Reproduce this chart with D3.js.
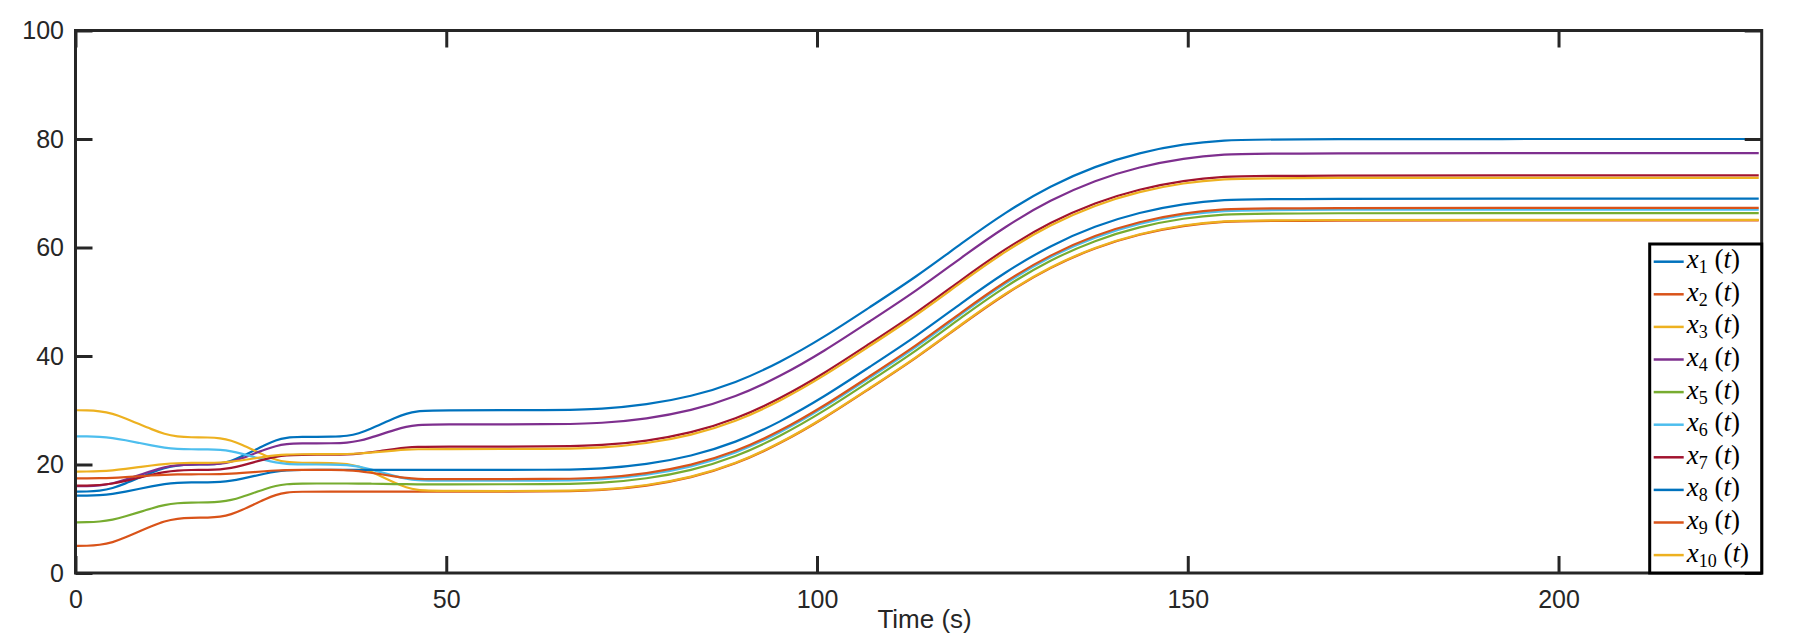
<!DOCTYPE html>
<html>
<head>
<meta charset="utf-8">
<script src="https://cdn.jsdelivr.net/npm/d3@7"></script>
<style>
body { margin: 0; background: #fff; }
</style>
</head>
<body>
<div id="chart-area"></div>
<script>
// time samples (s)
const TIME = [0, 1.5, 3.25, 5, 6.75, 8.5, 10.25, 12, 13.75, 15.5,
	18, 19.5, 21, 22.5, 24, 25.5, 27, 28.5, 30,
	35, 36.6, 38.2, 39.8, 41.4, 43, 44.6, 46.2, 47.8,
	65, 71, 77, 83, 89, 95, 101, 107, 113.5, 119.5, 125.5, 131.5, 137.5, 143.5, 149.5, 155, 160,
	227]

const X1 = [15, 15, 15.15, 15.6, 16.5, 17.5, 18.5, 19.4, 19.85, 20,
	20, 20.15, 20.61, 21.53, 22.55, 23.57, 24.49, 24.95, 25.1,
	25.1, 25.25, 25.69, 26.57, 27.55, 28.53, 29.41, 29.85, 30,
	30, 30.2, 31, 32.5, 35, 38.8, 43.5, 48.9, 54.7, 60.8, 66.6, 71.4, 75, 77.5, 79.1, 79.8, 80,
	80]
const X2 = [5, 5, 5.16, 5.62, 6.56, 7.6, 8.64, 9.58, 10.04, 10.2,
	10.2, 10.34, 10.78, 11.64, 12.6, 13.56, 14.42, 14.86, 15,
	15, 15, 15, 15, 15, 15, 15, 15, 15,
	15, 15.2, 16, 17.5, 20, 23.8, 28.5, 33.9, 39.7, 45.8, 51.6, 56.4, 60, 62.5, 64.1, 64.8, 65,
	65]
const X3 = [30, 30, 29.85, 29.4, 28.5, 27.5, 26.5, 25.6, 25.15, 25,
	25, 24.86, 24.44, 23.59, 22.65, 21.71, 20.86, 20.44, 20.3,
	20.3, 20.14, 19.68, 18.74, 17.7, 16.66, 15.72, 15.26, 15.1,
	15.1, 15.3, 16.1, 17.6, 20.1, 23.9, 28.6, 34, 39.8, 45.9, 51.7, 56.5, 60.1, 62.6, 64.2, 64.9, 65.1,
	65.1]
const X4 = [16, 16, 16.12, 16.48, 17.2, 18, 18.8, 19.52, 19.88, 20,
	20, 20.12, 20.47, 21.17, 21.95, 22.73, 23.43, 23.78, 23.9,
	23.9, 24.01, 24.32, 24.95, 25.65, 26.35, 26.98, 27.3, 27.4,
	27.4, 27.6, 28.4, 29.9, 32.4, 36.2, 40.9, 46.3, 52.1, 58.2, 64, 68.8, 72.4, 74.9, 76.5, 77.2, 77.4,
	77.4]
const X5 = [9.35, 9.35, 9.46, 9.79, 10.45, 11.18, 11.91, 12.56, 12.89, 13,
	13, 13.11, 13.42, 14.05, 14.75, 15.45, 16.08, 16.4, 16.5,
	16.5, 16.5, 16.48, 16.46, 16.43, 16.4, 16.37, 16.35, 16.35,
	16.35, 16.55, 17.35, 18.85, 21.35, 25.15, 29.85, 35.25, 41.05, 47.15, 52.95, 57.75, 61.35, 63.85, 65.45, 66.15, 66.35,
	66.35]
const X6 = [25.2, 25.2, 25.13, 24.91, 24.48, 24, 23.52, 23.09, 22.87, 22.8,
	22.8, 22.72, 22.46, 21.96, 21.4, 20.84, 20.34, 20.08, 20,
	20, 19.91, 19.64, 19.1, 18.5, 17.9, 17.36, 17.09, 17,
	17, 17.2, 18, 19.5, 22, 25.8, 30.5, 35.9, 41.7, 47.8, 53.6, 58.4, 62, 64.5, 66.1, 66.8, 67,
	67]
const X7 = [16.1, 16.1, 16.19, 16.45, 16.97, 17.55, 18.13, 18.65, 18.91, 19,
	19, 19.08, 19.34, 19.84, 20.4, 20.96, 21.46, 21.72, 21.8,
	21.8, 21.85, 21.98, 22.25, 22.55, 22.85, 23.12, 23.26, 23.3,
	23.3, 23.5, 24.3, 25.8, 28.3, 32.1, 36.8, 42.2, 48, 54.1, 59.9, 64.7, 68.3, 70.8, 72.4, 73.1, 73.3,
	73.3]
const X8 = [14.25, 14.25, 14.32, 14.54, 14.99, 15.48, 15.97, 16.41, 16.63, 16.7,
	16.7, 16.77, 16.98, 17.39, 17.85, 18.31, 18.72, 18.93, 19,
	19, 19, 19, 19, 19, 19, 19, 19, 19,
	19, 19.2, 20, 21.5, 24, 27.8, 32.5, 37.9, 43.7, 49.8, 55.6, 60.4, 64, 66.5, 68.1, 68.8, 69,
	69]
const X9 = [17.45, 17.45, 17.47, 17.54, 17.68, 17.83, 17.98, 18.11, 18.18, 18.2,
	18.2, 18.22, 18.3, 18.44, 18.6, 18.76, 18.9, 18.98, 19,
	19, 18.95, 18.8, 18.49, 18.15, 17.81, 17.5, 17.35, 17.3,
	17.3, 17.5, 18.3, 19.8, 22.3, 26.1, 30.8, 36.2, 42, 48.1, 53.9, 58.7, 62.3, 64.8, 66.4, 67.1, 67.3,
	67.3]
const X10 = [18.7, 18.7, 18.75, 18.89, 19.18, 19.5, 19.82, 20.11, 20.25, 20.3,
	20.3, 20.35, 20.49, 20.78, 21.1, 21.42, 21.71, 21.85, 21.9,
	21.9, 21.93, 22.01, 22.19, 22.38, 22.57, 22.74, 22.82, 22.85,
	22.85, 23.05, 23.85, 25.35, 27.85, 31.65, 36.35, 41.75, 47.55, 53.65, 59.45, 64.25, 67.85, 70.35, 71.95, 72.65, 72.85,
	72.85]

const SERIES_IDS = ["1", "2", "3", "4", "5", "6", "7", "8", "9", "10"]
const X_TICKS = [0, 50, 100, 150, 200]
const Y_TICKS = [0, 20, 40, 60, 80, 100]

const allValues = [X1, X2, X3, X4, X5, X6, X7, X8, X9, X10]
const COLORS = ["#0072BD", "#D95319", "#EDB120", "#7E2F8E", "#77AC30",
	"#4DBEEE", "#A2142F", "#0072BD", "#D95319", "#EDB120"]

const W = 1794, H = 639
const MARGIN = { LEFT: 75.5, RIGHT: 32.3, TOP: 30.5, BOTTOM: 66 }
const WIDTH = W - MARGIN.LEFT - MARGIN.RIGHT
const HEIGHT = H - MARGIN.TOP - MARGIN.BOTTOM
const AXIS = "#262626"
const TICK_LEN = 17

const svg = d3.select("#chart-area").append("svg")
	.attr("width", W)
	.attr("height", H)

svg.append("rect").attr("width", W).attr("height", H).attr("fill", "#fff")

const g = svg.append("g")
	.attr("transform", `translate(${MARGIN.LEFT}, ${MARGIN.TOP})`)

const x = d3.scaleLinear().domain([0, 227.4]).range([0, WIDTH])
const y = d3.scaleLinear().domain([0, 100]).range([HEIGHT, 0])

g.append("clipPath").attr("id", "plot-clip")
	.append("rect").attr("width", WIDTH).attr("height", HEIGHT)

const series = allValues.map((vals, i) => ({
	id: SERIES_IDS[i],
	color: COLORS[i],
	points: TIME.map((t, j) => ({ t: t, v: vals[j] }))
}))

const line = d3.line()
	.x(d => x(d.t))
	.y(d => y(d.v))
	.curve(d3.curveBasis)

g.append("g").attr("clip-path", "url(#plot-clip)")
	.selectAll("path")
	.data(series)
	.enter()
	.append("path")
	.attr("fill", "none")
	.attr("stroke", d => d.color)
	.attr("stroke-width", 2.2)
	.attr("d", d => line(d.points))

// axes, ticks point inward like matlab
function styleAxis(sel) {
	sel.select(".domain").remove()
	sel.selectAll(".tick line").attr("stroke", AXIS).attr("stroke-width", 3)
	sel.selectAll(".tick text")
		.attr("fill", AXIS)
		.attr("font-family", "Liberation Sans, Arial, Helvetica, sans-serif")
		.attr("font-size", 25)
}

g.append("g")
	.attr("transform", `translate(0, ${HEIGHT})`)
	.call(d3.axisBottom(x).tickValues(X_TICKS).tickSizeInner(-TICK_LEN).tickSizeOuter(0).tickPadding(17.5))
	.call(styleAxis)

g.append("g")
	.call(d3.axisTop(x).tickValues(X_TICKS).tickSizeInner(-TICK_LEN).tickSizeOuter(0).tickFormat(""))
	.call(styleAxis)

g.append("g")
	.call(d3.axisLeft(y).tickValues(Y_TICKS).tickSizeInner(-TICK_LEN).tickSizeOuter(0).tickPadding(11.5))
	.call(styleAxis)

g.append("g")
	.attr("transform", `translate(${WIDTH}, 0)`)
	.call(d3.axisRight(y).tickValues(Y_TICKS).tickSizeInner(-TICK_LEN).tickSizeOuter(0).tickFormat(""))
	.call(styleAxis)

g.append("rect")
	.attr("width", WIDTH)
	.attr("height", HEIGHT)
	.attr("fill", "none")
	.attr("stroke", AXIS)
	.attr("stroke-width", 3)

svg.append("text")
	.attr("x", MARGIN.LEFT + WIDTH / 2 + 6)
	.attr("y", 628)
	.attr("text-anchor", "middle")
	.attr("fill", AXIS)
	.attr("font-family", "Liberation Sans, Arial, Helvetica, sans-serif")
	.attr("font-size", 26)
	.text("Time (s)")

// legend in the lower right corner
const LEG_W = 112, ROW_H = 32.6
const legend = svg.append("g")
	.attr("transform", `translate(${MARGIN.LEFT + WIDTH - LEG_W}, ${MARGIN.TOP + HEIGHT - 329})`)

legend.append("rect")
	.attr("width", LEG_W)
	.attr("height", 329)
	.attr("fill", "#fff")
	.attr("stroke", "#000")
	.attr("stroke-width", 3)

const rows = legend.selectAll("g.row")
	.data(series)
	.enter()
	.append("g")
	.attr("class", "row")
	.attr("transform", (d, i) => `translate(0, ${17.7 + i * ROW_H})`)

rows.append("line")
	.attr("x1", 4).attr("x2", 34)
	.attr("stroke", d => d.color)
	.attr("stroke-width", 2.5)

const label = rows.append("text")
	.attr("x", 37)
	.attr("y", 6.5)
	.attr("fill", "#000")
	.attr("font-family", "Liberation Serif, Times New Roman, serif")
	.attr("font-size", 27)

label.append("tspan").attr("font-style", "italic").text("x")
label.append("tspan").attr("font-size", 18).attr("dy", 5).text(d => d.id)
label.append("tspan").attr("dy", -5).text(" (")
label.append("tspan").attr("font-style", "italic").text("t")
label.append("tspan").text(")")
</script>
</body>
</html>
